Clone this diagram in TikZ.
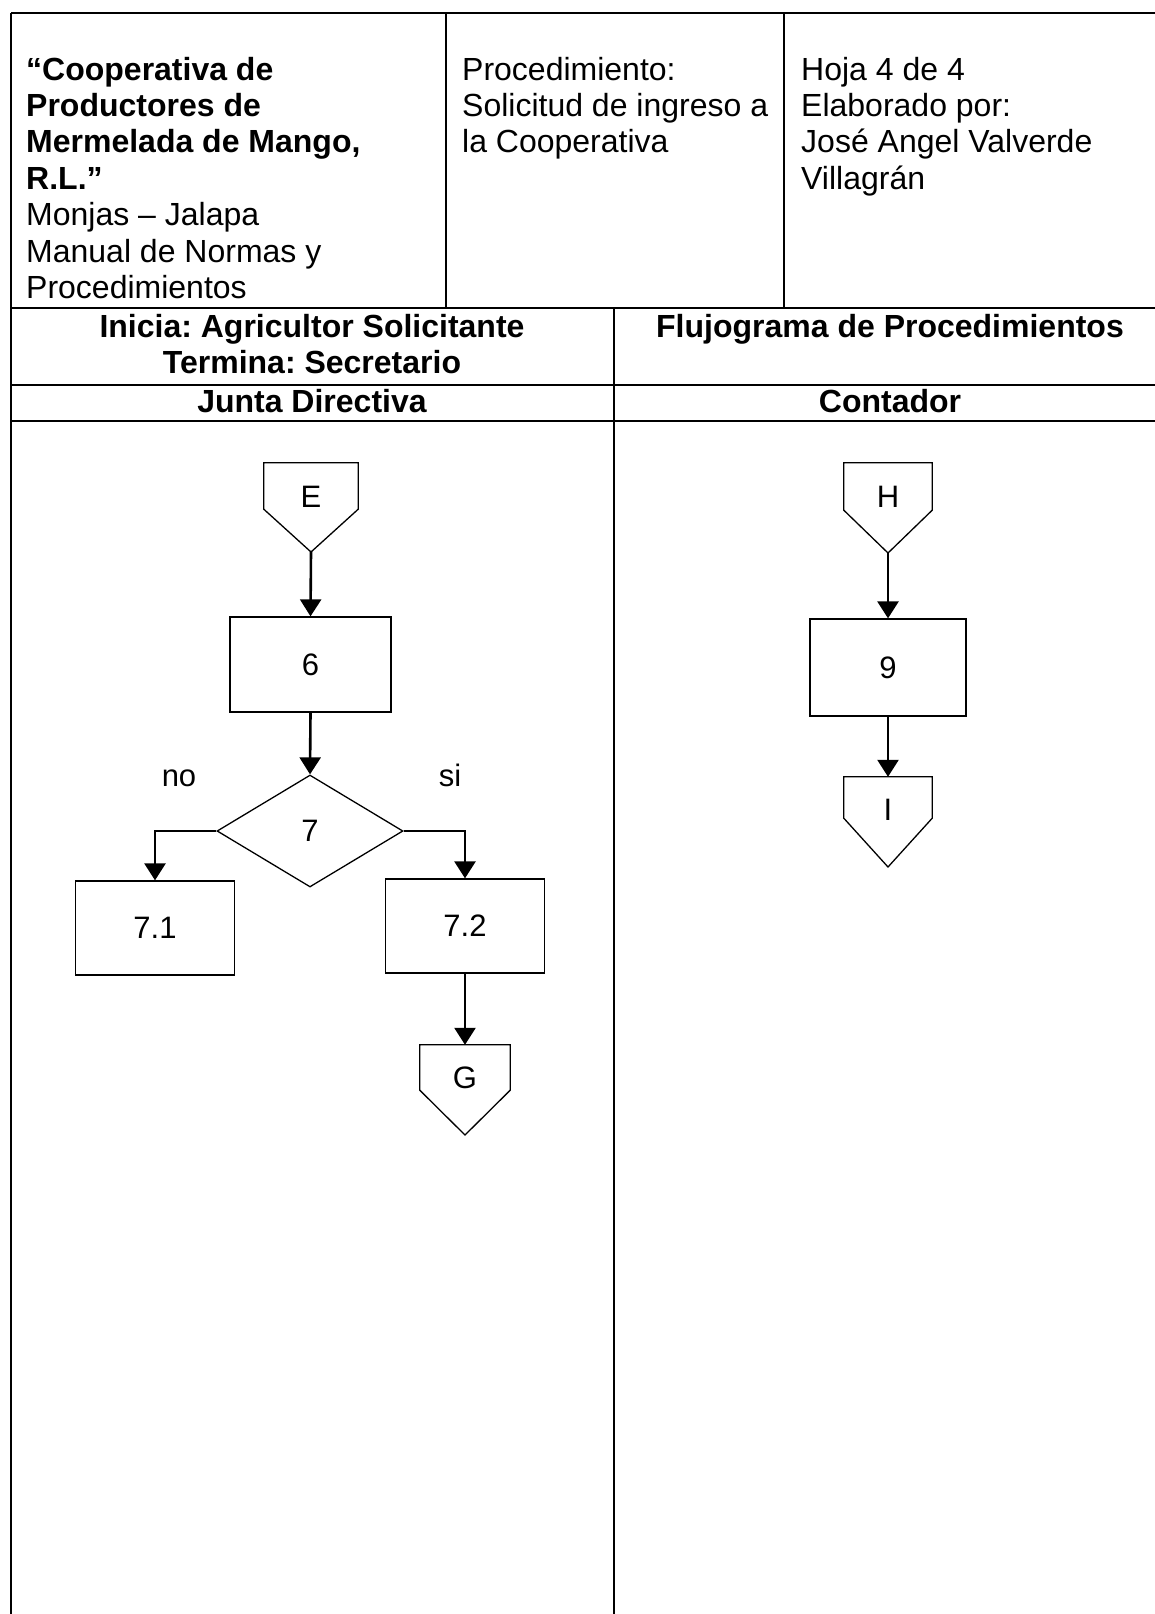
\documentclass[tikz,border=0pt]{standalone}
\usepackage{fontspec}
\setmainfont{Liberation Sans}
\usetikzlibrary{arrows.meta,shapes.geometric}
\frenchspacing
\begin{document}
\frenchspacing
\begin{tikzpicture}[x=1pt,y=-1pt,
  tbl/.style={line width=1.6pt},
  shp/.style={draw, line width=1.3pt, inner sep=0pt},
  box/.style={shp, rectangle, font=\fontsize{31}{36}\selectfont},
  conn/.style={rectangle, inner sep=0pt, draw=none},
  lbl/.style={font=\fontsize{31}{36}\selectfont, inner sep=0pt},
  hdr/.style={font=\fontsize{32}{36.4}\selectfont, inner sep=0pt, anchor=base west},
  hdrb/.style={font=\fontsize{32}{36.4}\selectfont\bfseries, inner sep=0pt, anchor=base west},
  hdrc/.style={font=\fontsize{32}{36.4}\selectfont\bfseries, inner sep=0pt, anchor=base},
  arr/.style={line width=2.6pt, -{Triangle[length=17pt,width=21pt]}}
]
\useasboundingbox (0,0) rectangle (1155,1614);
\fill[white] (0,0) rectangle (1155,1614);
\clip (0,0) rectangle (1155,1614);

% table frame
\draw[tbl] (11,13) -- (1175,13);
\draw[tbl] (11,13) -- (11,1630);
\draw[tbl] (446,13) -- (446,308);
\draw[tbl] (784,13) -- (784,308);
\draw[tbl] (11,308) -- (1175,308);
\draw[tbl] (614,308) -- (614,1630);
\draw[tbl] (11,385) -- (1175,385);
\draw[tbl] (11,421) -- (1175,421);

% header column 1
\node[hdrb] (h1) at (26,80) {“Cooperativa de};
\node[hdrb] (h2) at (26,116.4) {Productores de};
\node[hdrb] (h3) at (26,152.8) {Mermelada de Mango,};
\node[hdrb] (h4) at (26,189.2) {R.L.”};
\node[hdr] (h5) at (26,225.6) {Monjas – Jalapa};
\node[hdr] (h6) at (26,262) {Manual de Normas y};
\node[hdr] (h7) at (26,298.4) {Procedimientos};
% header column 2
\node[hdr] (p1) at (462,80) {Procedimiento:};
\node[hdr] (p2) at (462,116.4) {Solicitud de ingreso a};
\node[hdr] (p3) at (462,152.8) {la Cooperativa};
% header column 3
\node[hdr] (s1) at (801,80) {Hoja 4 de 4};
\node[hdr] (s2) at (801,116.4) {Elaborado por:};
\node[hdr] (s3) at (801,152.8) {José Angel Valverde};
\node[hdr] (s4) at (801,189.2) {Villagrán};

% row 2
\node[hdrc] (ini) at (312,337) {Inicia: Agricultor Solicitante};
\node[hdrc] (ter) at (312,373) {Termina: Secretario};
\node[hdrc] (flu) at (890,337) {Flujograma de Procedimientos};
% lanes
\node[hdrc] (jun) at (312,412) {Junta Directiva};
\node[hdrc] (con) at (890,412) {Contador};

% ---- Junta Directiva lane
\node[conn, minimum width=94pt, minimum height=46pt] (E) at (311,486) {};
\coordinate (Etip) at (311,552);
\draw[shp] (E.north west) -- (E.north east) -- (E.south east) -- (Etip) -- (E.south west) -- cycle;
\node[lbl] (Et) at (311,497) {E};

\node[box, minimum width=161pt, minimum height=95pt] (b6) at (310.5,664.5) {6};
\node[shp, diamond, minimum width=186pt, minimum height=112pt, font=\fontsize{31}{36}\selectfont] (d7) at (310,831) {7};
\node[lbl, anchor=base] (no) at (179,786) {no};
\node[lbl, anchor=base] (si) at (450,786) {si};
\node[box, minimum width=159pt, minimum height=94pt] (b71) at (155,928) {7.1};
\node[box, minimum width=159pt, minimum height=94pt] (b72) at (465,926) {7.2};

\node[conn, minimum width=90pt, minimum height=45pt] (G) at (465,1067.5) {};
\coordinate (Gtip) at (465,1135);
\draw[shp] (G.north west) -- (G.north east) -- (G.south east) -- (Gtip) -- (G.south west) -- cycle;
\node[lbl] (Gt) at (465,1078) {G};

\draw[arr] (Etip) -- (b6.north);
\draw[arr] (b6.south) -- (d7.north);
\draw[arr] (d7.west) -| (b71.north);
\draw[arr] (d7.east) -| (b72.north);
\draw[arr] (b72.south) -- (G.north);

% ---- Contador lane
\node[conn, minimum width=88pt, minimum height=47pt] (H) at (888,486.5) {};
\coordinate (Htip) at (888,553);
\draw[shp] (H.north west) -- (H.north east) -- (H.south east) -- (Htip) -- (H.south west) -- cycle;
\node[lbl] (Ht) at (888,497) {H};

\node[box, minimum width=156pt, minimum height=97pt] (b9) at (888,667.5) {9};

\node[conn, minimum width=88pt, minimum height=41pt] (I) at (888,797.5) {};
\coordinate (Itip) at (888,867);
\draw[shp] (I.north west) -- (I.north east) -- (I.south east) -- (Itip) -- (I.south west) -- cycle;
\node[lbl] (It) at (888,810) {I};

\draw[arr] (Htip) -- (b9.north);
\draw[arr] (b9.south) -- (I.north);
\end{tikzpicture}
\end{document}
